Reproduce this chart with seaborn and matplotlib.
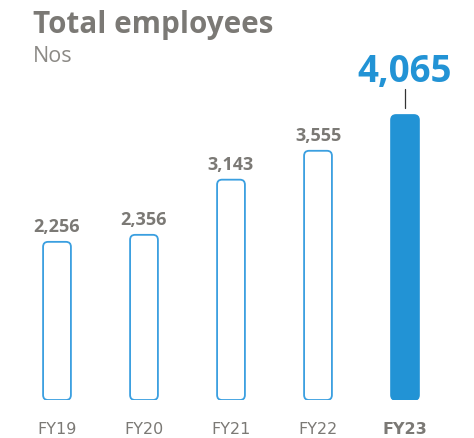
import matplotlib
matplotlib.use("Agg")
import matplotlib.pyplot as plt
from matplotlib.patches import FancyBboxPatch
import pandas as pd
import seaborn as sns

# Data
years = ["FY19", "FY20", "FY21", "FY22", "FY23"]
employees = [2256, 2356, 3143, 3555, 4065]

df = pd.DataFrame({"Year": years, "Employees": employees})

sns.set_style("white")
plt.rcParams["font.family"] = ["Open Sans", "DejaVu Sans"]

blue = "#2293d5"
edge_blue = "#3a9fe0"
grey = "#7b7975"

fig = plt.figure(figsize=(4.74, 4.38), dpi=100)
ax = fig.add_axes([0, 38 / 438, 1, 400 / 438])

sns.barplot(data=df, x="Year", y="Employees", width=0.32, color="white", ax=ax)
ax.set_xlim(-57 / 87, (474 - 57) / 87)
ax.set_ylim(0, 5706)

# aspect ratio between data units per pixel in y and x
fig.canvas.draw()
p0 = ax.transData.transform((0, 0))
p1 = ax.transData.transform((1, 1000))
ypx = 1000 / (p1[1] - p0[1])
aspect = ypx / (1 / (p1[0] - p0[0]))
radius = 5 / (p1[0] - p0[0])

# swap the square bars for rounded ones
for i, patch in enumerate(list(ax.patches)):
    x, y = patch.get_x(), patch.get_y()
    w, h = patch.get_width(), patch.get_height()
    patch.remove()
    last = i == len(years) - 1
    box = FancyBboxPatch((x, y), w, h,
                         boxstyle=f"round,pad=0,rounding_size={radius}",
                         mutation_aspect=aspect,
                         facecolor=blue if last else "white",
                         edgecolor=blue if last else edge_blue,
                         linewidth=1.3)
    ax.add_patch(box)

# value labels
for i, v in enumerate(employees):
    if i < len(years) - 1:
        ax.annotate(f"{v:,}", (i, v), xytext=(0, 7), textcoords="offset points",
                    ha="center", va="baseline", fontsize=13, fontweight="bold", color=grey)
    else:
        ax.annotate(f"{v:,}", (i, v), xytext=(0, 24), textcoords="offset points",
                    ha="center", va="baseline", fontsize=26.5, fontweight="bold", color=blue)
        ax.plot([i, i], [v + 7 * ypx, v + 26 * ypx], color="#333333", linewidth=0.9)

ax.set_xlabel("")
ax.set_ylabel("")
ax.set_yticks([])
ax.tick_params(axis="x", length=0, pad=16)
for lbl in ax.get_xticklabels():
    lbl.set_family("DejaVu Sans")
    lbl.set_fontsize(11.5)
    lbl.set_color(grey)
    if lbl.get_text() == "FY23":
        lbl.set_fontweight("bold")
sns.despine(ax=ax, left=True, bottom=True)

fig.text(33 / 474, 1 - 33 / 438, "Total employees", ha="left", va="baseline",
         fontsize=21.3, fontweight="bold", color=grey)
fig.text(33 / 474, 1 - 62 / 438, "Nos", ha="left", va="baseline",
         fontsize=15.5, color="#8c8a86")

fig.savefig("out.png", dpi=100)
